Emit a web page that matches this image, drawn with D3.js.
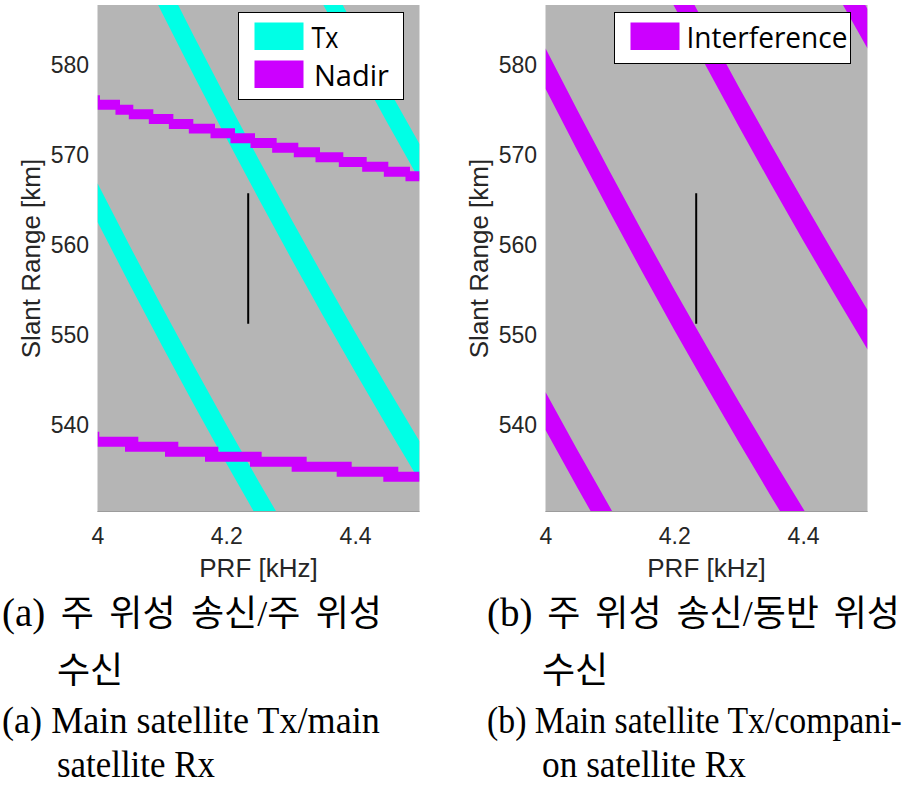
<!DOCTYPE html>
<html><head><meta charset="utf-8">
<script src="https://cdn.jsdelivr.net/npm/d3@7"></script>
<style>body{margin:0;background:#fff} svg{display:block}</style>
</head><body>
<svg id="c" width="914" height="786"></svg>
<script>
// ---------- data ----------
const prfTicks = [4, 4.2, 4.4];
const rangeTicks = [540, 550, 560, 570, 580];
const prfDomain = [4, 4.5];
const rangeDomain = [530.28, 586.61];
const xLabel = "PRF [kHz]";
const yLabel = "Slant Range [km]";

// Tx interference bands (panel a): [PRF kHz, lower range km, upper range km]
const txBandA = [[4.00,562.50,566.80],[4.05,555.56,559.86],[4.10,548.78,553.08],[4.15,542.17,546.47],[4.20,535.71,540.01],[4.25,529.41,533.71],[4.30,523.26,527.56]];
const txBandB = [[4.05,592.99,597.39],[4.10,585.77,590.17],[4.15,578.71,583.11],[4.20,571.83,576.23],[4.25,565.11,569.51],[4.30,558.54,562.94],[4.35,552.12,556.52],[4.40,545.85,550.25],[4.45,539.73,544.13],[4.50,533.73,538.13]];
const txBandC = [[4.30,593.52,597.52],[4.35,586.71,590.71],[4.40,580.05,584.05],[4.45,573.53,577.53],[4.50,567.17,571.17]];

// Nadir bands (panel a), stepped edges: [PRF kHz, range km]
const nadir2Top = [[4.0000,576.57],[4.0039,576.09],[4.0349,575.54],[4.0556,575.02],[4.0867,574.50],[4.1178,573.94],[4.1488,573.43],[4.1825,572.91],[4.2135,572.35],[4.2446,571.83],[4.2782,571.31],[4.3118,570.80],[4.3455,570.24],[4.3817,569.72],[4.4180,569.20],[4.4516,568.65],[4.4852,568.13]];
const nadir2Bottom = [[4.0000,574.98],[4.0279,574.43],[4.0486,573.91],[4.0797,573.39],[4.1108,572.83],[4.1418,572.32],[4.1755,571.80],[4.2065,571.24],[4.2376,570.72],[4.2712,570.20],[4.3048,569.69],[4.3385,569.13],[4.3747,568.61],[4.4110,568.09],[4.4446,567.54],[4.4782,567.02]];
const nadir1Top = [[4.0000,539.20],[4.0028,538.65],[4.0634,538.09],[4.1255,537.54],[4.1876,536.98],[4.2549,536.43],[4.3248,535.87],[4.3947,535.31],[4.4671,534.76]];
const nadir1Bottom = [[4.0000,537.54],[4.0427,536.98],[4.1048,536.43],[4.1669,535.87],[4.2368,535.31],[4.3015,534.76],[4.3714,534.20],[4.4438,533.65]];

// Interference bands (panel b): [PRF kHz, lower range km, upper range km]
const intfBandA = [[4.00,539.40,543.60],[4.05,532.92,537.12],[4.10,526.60,530.80],[4.15,520.42,524.62]];
const intfBandB = [[4.00,577.30,581.80],[4.05,570.36,574.86],[4.10,563.58,568.08],[4.15,556.97,561.47],[4.20,550.51,555.01],[4.25,544.21,548.71],[4.30,538.06,542.56],[4.35,532.04,536.54],[4.40,526.16,530.66],[4.45,520.42,524.92]];
const intfBandC = [[4.15,593.31,597.71],[4.20,586.43,590.83],[4.25,579.71,584.11],[4.30,573.14,577.54],[4.35,566.72,571.12],[4.40,560.45,564.85],[4.45,554.33,558.73],[4.50,548.33,552.73]];
const intfBandD = [[4.40,594.65,599.05],[4.45,588.13,592.53],[4.50,581.77,586.17]];

// selected PRF / swath marker
const selPrf = 4.234;
const selRange = [551.2, 565.7];

const legendA = ["Tx", "Nadir"];
const legendB = ["Interference"];
const captionA = ["(a) 주 위성 송신/주 위성", "수신", "(a) Main satellite Tx/main", "satellite Rx"];
const captionB = ["(b) 주 위성 송신/동반 위성", "수신", "(b) Main satellite Tx/compani-", "on satellite Rx"];

// ---------- drawing ----------
const COL_BG = "#b5b5b5", COL_TX = "#00ffe6", COL_MAG = "#cc00ff", COL_AX = "#262626";
const svg = d3.select("#c");
const plotTop = 5, plotBottom = 512;

function stepBand(topPts, botPts, endPrf) {
  const xs = Array.from(new Set(topPts.map(d => d[0]).concat(botPts.map(d => d[0]), [endPrf]))).sort((a,b)=>a-b);
  const at = (pts, xv) => { let v = pts[0][1]; for (const p of pts) if (p[0] <= xv + 1e-9) v = p[1]; return v; };
  return xs.map(xv => [xv, at(botPts, xv), at(topPts, xv)]);
}

function panel(id, x0, bands, steps, legendItems, legendBox) {
  const x = d3.scaleLinear().domain(prfDomain).range([x0, x0 + 322]);
  const y = d3.scaleLinear().domain(rangeDomain).range([plotBottom, plotTop]);
  const g = svg.append("g");
  const clipId = "clip" + id;
  svg.append("defs").append("clipPath").attr("id", clipId)
    .append("rect").attr("x", x(prfDomain[0])).attr("y", y(rangeDomain[1]))
    .attr("width", x(prfDomain[1]) - x(prfDomain[0])).attr("height", y(rangeDomain[0]) - y(rangeDomain[1]));
  g.append("rect").attr("x", x(prfDomain[0])).attr("y", y(rangeDomain[1]))
    .attr("width", x(prfDomain[1]) - x(prfDomain[0])).attr("height", y(rangeDomain[0]) - y(rangeDomain[1]))
    .attr("fill", COL_BG);
  const pg = g.append("g").attr("clip-path", `url(#${clipId})`);
  const area = d3.area().x(d => x(d[0])).y0(d => y(d[1])).y1(d => y(d[2]));
  bands.forEach(b => pg.append("path").attr("d", area(b.data)).attr("fill", b.color));
  const sArea = d3.area().curve(d3.curveStepAfter).x(d => x(d[0])).y0(d => y(d[1])).y1(d => y(d[2]));
  steps.forEach(s => pg.append("path").attr("d", sArea(stepBand(s.top, s.bottom, prfDomain[1]))).attr("fill", s.color));
  g.append("line").attr("x1", x(prfDomain[0])).attr("x2", x(prfDomain[1]))
    .attr("y1", y(rangeDomain[0]) - 0.5).attr("y2", y(rangeDomain[0]) - 0.5)
    .attr("stroke", "#9c9c9c").attr("stroke-width", 1);
  pg.append("line").attr("x1", x(selPrf)).attr("x2", x(selPrf))
    .attr("y1", y(selRange[0])).attr("y2", y(selRange[1]))
    .attr("stroke", "#000").attr("stroke-width", 2);
  const xa = g.append("g").attr("transform", `translate(0,${plotBottom})`)
    .call(d3.axisBottom(x).tickValues(prfTicks).tickFormat(d3.format("")).tickSize(0).tickPadding(0));
  xa.select(".domain").remove();
  xa.selectAll("text").attr("dy", null).attr("y", 31.5)
    .attr("font-family", "Liberation Sans, Arial, sans-serif").attr("font-size", 23).attr("fill", COL_AX);
  const ya = g.append("g").attr("transform", `translate(${x0},0)`)
    .call(d3.axisLeft(y).tickValues(rangeTicks).tickFormat(d3.format("d")).tickSize(0).tickPadding(0));
  ya.select(".domain").remove();
  ya.selectAll("text").attr("x", -8.5).attr("dy", "0.36em")
    .attr("font-family", "Liberation Sans, Arial, sans-serif").attr("font-size", 23).attr("fill", COL_AX);
  g.append("text").attr("x", x0 + 161).attr("y", 577).attr("text-anchor", "middle")
    .attr("font-family", "Liberation Sans, Arial, sans-serif").attr("font-size", 26).attr("fill", COL_AX).text(xLabel);
  g.append("text").attr("transform", `translate(${x0 - 57.5},${(plotTop + plotBottom) / 2}) rotate(-90)`)
    .attr("text-anchor", "middle")
    .attr("font-family", "Liberation Sans, Arial, sans-serif").attr("font-size", 26).attr("fill", COL_AX).text(yLabel);
  const lg = g.append("g");
  lg.append("rect").attr("x", legendBox.x).attr("y", legendBox.y).attr("width", legendBox.w).attr("height", legendBox.h)
    .attr("fill", "#fff").attr("stroke", "#000").attr("stroke-width", 1);
  legendItems.forEach((it, i) => {
    const yy = legendBox.y + 10 + i * 38;
    lg.append("rect").attr("x", legendBox.x + 16).attr("y", yy).attr("width", 49).attr("height", 27.5).attr("fill", it.color);
    lg.append("text").attr("x", legendBox.x + it.dx).attr("y", yy + 25.5)
      .attr("font-family", "Open Sans, Noto Sans, sans-serif").attr("font-size", 29).attr("fill", "#000")
      .attr("textLength", it.tl).attr("lengthAdjust", "spacingAndGlyphs").text(it.label);
  });
}

panel("a", 97.5,
  [{data: txBandA, color: COL_TX}, {data: txBandB, color: COL_TX}, {data: txBandC, color: COL_TX}],
  [{top: nadir2Top, bottom: nadir2Bottom, color: COL_MAG}, {top: nadir1Top, bottom: nadir1Bottom, color: COL_MAG}],
  [{label: legendA[0], color: COL_TX, dx: 73, tl: 27}, {label: legendA[1], color: COL_MAG, dx: 75.5, tl: 75}],
  {x: 238.5, y: 12.5, w: 165, h: 87});

panel("b", 545.5,
  [{data: intfBandA, color: COL_MAG}, {data: intfBandB, color: COL_MAG}, {data: intfBandC, color: COL_MAG}, {data: intfBandD, color: COL_MAG}],
  [],
  [{label: legendB[0], color: COL_MAG, dx: 72, tl: 161}],
  {x: 614.5, y: 12.5, w: 236, h: 51});

// justified Korean line: words spread over a given width
function justified(str, x0, yb, width) {
  const words = str.split(" ");
  const nodes = words.map((w, i) => svg.append("text").attr("y", yb)
    .attr("font-family", "Liberation Serif, Noto Sans CJK KR, serif")
    .attr("font-size", i === 0 ? 39 : 36).attr("fill", "#000").text(w));
  const widths = nodes.map(n => n.node().getComputedTextLength());
  const gap = (width - d3.sum(widths)) / (words.length - 1);
  let cx = x0;
  nodes.forEach((n, i) => { n.attr("x", cx); cx += widths[i] + gap; });
}
// condensed serif line: horizontally scaled to a given width
function condensed(str, x0, yb, width) {
  const t = svg.append("text").attr("x", 0).attr("y", 0)
    .attr("font-family", "Liberation Serif, Times New Roman, serif").attr("font-size", 38).attr("fill", "#000").text(str);
  const s = width / t.node().getComputedTextLength();
  t.attr("transform", `translate(${x0},${yb}) scale(${s},1)`);
}
function caption(lines, x0, widths) {
  justified(lines[0], x0, 626, widths[0]);
  svg.append("text").attr("x", x0 + 55).attr("y", 683)
    .attr("font-family", "Noto Sans CJK KR, sans-serif").attr("font-size", 36).attr("fill", "#000").text(lines[1]);
  condensed(lines[2], x0, 733, widths[2]);
  condensed(lines[3], x0 + 55, 777, widths[3]);
}
caption(captionA, 2, [380, 0, 378, 158]);
caption(captionB, 487, [413, 0, 415, 204]);
</script>
</body></html>
